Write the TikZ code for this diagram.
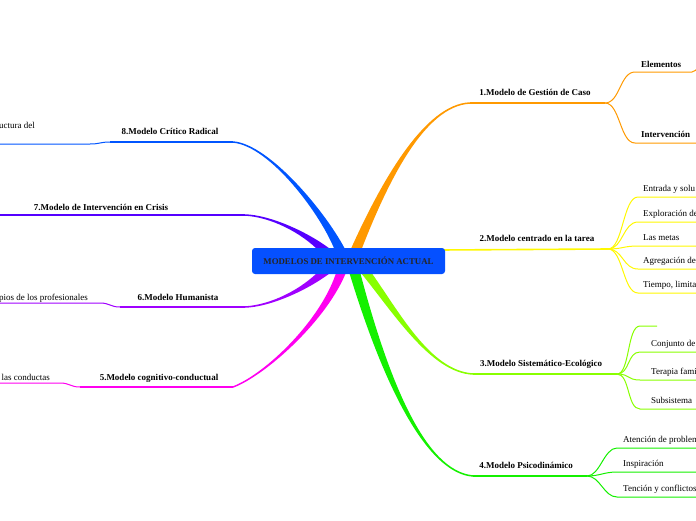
\documentclass[tikz,border=0pt]{standalone}
\usepackage{fontspec}
\setmainfont{Liberation Serif}
\usetikzlibrary{calc}

\definecolor{rootblue}{RGB}{5,80,255}
\definecolor{gestion}{RGB}{255,153,0}
\definecolor{tarea}{RGB}{255,248,0}
\definecolor{sistema}{RGB}{136,255,0}
\definecolor{psico}{RGB}{20,240,0}
\definecolor{cognit}{RGB}{255,0,240}
\definecolor{human}{RGB}{160,0,255}
\definecolor{crisis}{RGB}{85,0,255}
\definecolor{radical}{RGB}{0,85,255}

% tapered main branch: colour, base, control 1, control 2, tip, half width at base
\newcommand\branch[6]{%
  \fill[#1] ($(#2)+(#6)$) .. controls ($(#3)+0.6*(#6)$) and ($(#4)+(0,1)$)
    .. ($(#5)+(0,.75)$) -- ($(#5)+(0,-.75)$) .. controls ($(#4)+(0,-1)$)
    and ($(#3)-0.6*(#6)$) .. ($(#2)-(#6)$) -- cycle;}

\begin{document}
\begin{tikzpicture}[x=1pt,y=-1pt,
  every node/.style={inner sep=0pt},
  topic/.style={font=\fontsize{9}{11}\selectfont\bfseries,anchor=base},
  leaf/.style={font=\fontsize{9}{11}\selectfont},
  rootbox/.style={fill=rootblue,rounded corners=3pt,minimum width=193pt,
    minimum height=26pt,font=\fontsize{8.8}{10}\selectfont\bfseries,text=black!85},
  mainline/.style={line width=1.5pt},
  subline/.style={line width=1pt}]
\path[use as bounding box] (0,0) rectangle (696,520);
\clip (0,0) rectangle (696,520);

% 1.Modelo de Gestion de Caso
\coordinate (b1) at (355,252);
\coordinate (t1) at (470,103);
\coordinate (h1) at (605,103);
\branch{gestion}{b1}{385,180}{425,105}{t1}{5.5,0}
\draw[gestion,mainline] (t1) -- (h1);
\node[topic] (m1) at (535,95) {1.Modelo de Gestión de Caso};
\coordinate (g1) at (635,72);
\coordinate (g1e) at (692,72);
\coordinate (g2) at (635,143);
\coordinate (g2e) at (700,143);
\draw[gestion,subline] (h1) .. controls +(15,0) and +(-15,0) .. (g1) -- (g1e)
  .. controls +(5,0) and +(0,6) .. ++(9,-16);
\draw[gestion,subline] (h1) .. controls +(15,0) and +(-15,0) .. (g2) -- (g2e);
\node[leaf,font=\fontsize{9}{11}\selectfont\bfseries,anchor=base west] (lg1) at (641,67) {Elementos};
\node[leaf,font=\fontsize{9}{11}\selectfont\bfseries,anchor=base west] (lg2) at (641,137) {Intervención};

% 2.Modelo centrado en la tarea
\coordinate (t2) at (440,250);
\coordinate (h2) at (608,249);
\draw[tarea,line width=1.6pt] (t2) -- (h2);
\node[topic] (m2) at (537,241) {2.Modelo centrado en la tarea};
\foreach \y/\txt [count=\i] in {197/Entrada y solu,222/Exploración de,246/Las metas,
    269/Agregación de,293/{Tiempo, limita}}{
  \coordinate (y\i) at (638,\y);
  \draw[tarea,subline] (h2) .. controls +(15,0) and +(-15,0) .. (y\i) -- ++(70,0);
  \node[leaf,anchor=base west] (ly\i) at ($(y\i)+(5,-5.5)$) {\txt};
}

% 3.Modelo Sistematico-Ecologico
\coordinate (b3) at (364,270);
\coordinate (t3) at (473,374);
\coordinate (h3) at (617,374);
\branch{sistema}{b3}{395,310}{430,372}{t3}{-5.5,0}
\draw[sistema,mainline] (t3) -- (h3);
\node[topic] (m3) at (541,366) {3.Modelo Sistemático-Ecológico};
\coordinate (s0) at (640,326);
\coordinate (s0e) at (657,326);
\draw[sistema,subline] (h3) .. controls +(13,0) and +(-13,0) .. (s0) -- (s0e);
\foreach \y/\txt [count=\i] in {352/Conjunto de,380/Terapia fami,409/Subsistema}{
  \coordinate (s\i) at (640,\y);
  \draw[sistema,subline] (h3) .. controls +(13,0) and +(-13,0) .. (s\i) -- ++(70,0);
  \node[leaf,anchor=base west] (ls\i) at ($(s\i)+(11,-5.5)$) {\txt};
}

% 4.Modelo Psicodinamico
\coordinate (b4) at (354,270);
\coordinate (t4) at (473,476);
\coordinate (h4) at (587,476);
\branch{psico}{b4}{385,380}{425,472}{t4}{-5.5,0}
\draw[psico,mainline] (t4) -- (h4);
\node[topic] (m4) at (526,468) {4.Modelo Psicodinámico};
\foreach \y/\txt [count=\i] in {448/Atención de problem,472/Inspiración,497/Tención y conflictos}{
  \coordinate (p\i) at (617,\y);
  \draw[psico,subline] (h4) .. controls +(13,0) and +(-13,0) .. (p\i) -- ++(90,0);
  \node[leaf,anchor=base west] (lp\i) at ($(p\i)+(6,-5.5)$) {\txt};
}

% 5.Modelo cognitivo-conductual
\coordinate (b5) at (342,270);
\coordinate (t5) at (233,387);
\coordinate (h5) at (80,387);
\coordinate (k5) at (60,383);
\coordinate (k5e) at (-5,383);
\branch{cognit}{b5}{325,320}{265,375}{t5}{5,0}
\draw[cognit,mainline] (t5) -- (h5);
\draw[cognit,subline] (h5) .. controls +(-10,0) and +(10,0) .. (k5) -- (k5e);
\node[topic] (m5) at (159,380) {5.Modelo cognitivo-conductual};
\node[leaf,anchor=base east] (lk5) at (50,380) {las conductas};

% 6.Modelo Humanista
\coordinate (b6) at (327,270);
\coordinate (t6) at (245,307);
\coordinate (h6) at (120,307);
\coordinate (k6) at (100,303);
\coordinate (k6e) at (-5,303);
\branch{human}{b6}{305,290}{270,306}{t6}{7,0}
\draw[human,mainline] (t6) -- (h6);
\draw[human,subline] (h6) .. controls +(-10,0) and +(10,0) .. (k6) -- (k6e);
\node[topic] (m6) at (178,300) {6.Modelo Humanista};
\node[leaf,anchor=base east] (lk6) at (88,300) {pios de los profesionales};

% 7.Modelo de Intervencion en Crisis
\coordinate (b7) at (327,252);
\coordinate (t7) at (245,215);
\coordinate (e7) at (-5,215);
\branch{crisis}{b7}{305,232}{270,216}{t7}{-7,0}
\draw[crisis,mainline] (t7) -- (e7);
\node[topic] (m7) at (101,210) {7.Modelo de Intervención en Crisis};

% 8.Modelo Critico Radical
\coordinate (b8) at (341,252);
\coordinate (t8) at (233,142);
\coordinate (h8) at (110,142);
\coordinate (k8) at (90,144);
\coordinate (k8e) at (-5,144);
\branch{radical}{b8}{325,215}{270,145}{t8}{-5.5,0}
\draw[radical,mainline] (t8) -- (h8);
\draw[radical,subline] (h8) .. controls +(-10,0) and +(10,0) .. (k8) -- (k8e);
\node[topic] (m8) at (170,134) {8.Modelo Crítico Radical};
\node[leaf,anchor=base east] (lk8) at (35,128) {uctura del};

\node[rootbox] (root) at (348.5,261) {MODELOS DE INTERVENCIÓN ACTUAL};
\end{tikzpicture}
\end{document}
